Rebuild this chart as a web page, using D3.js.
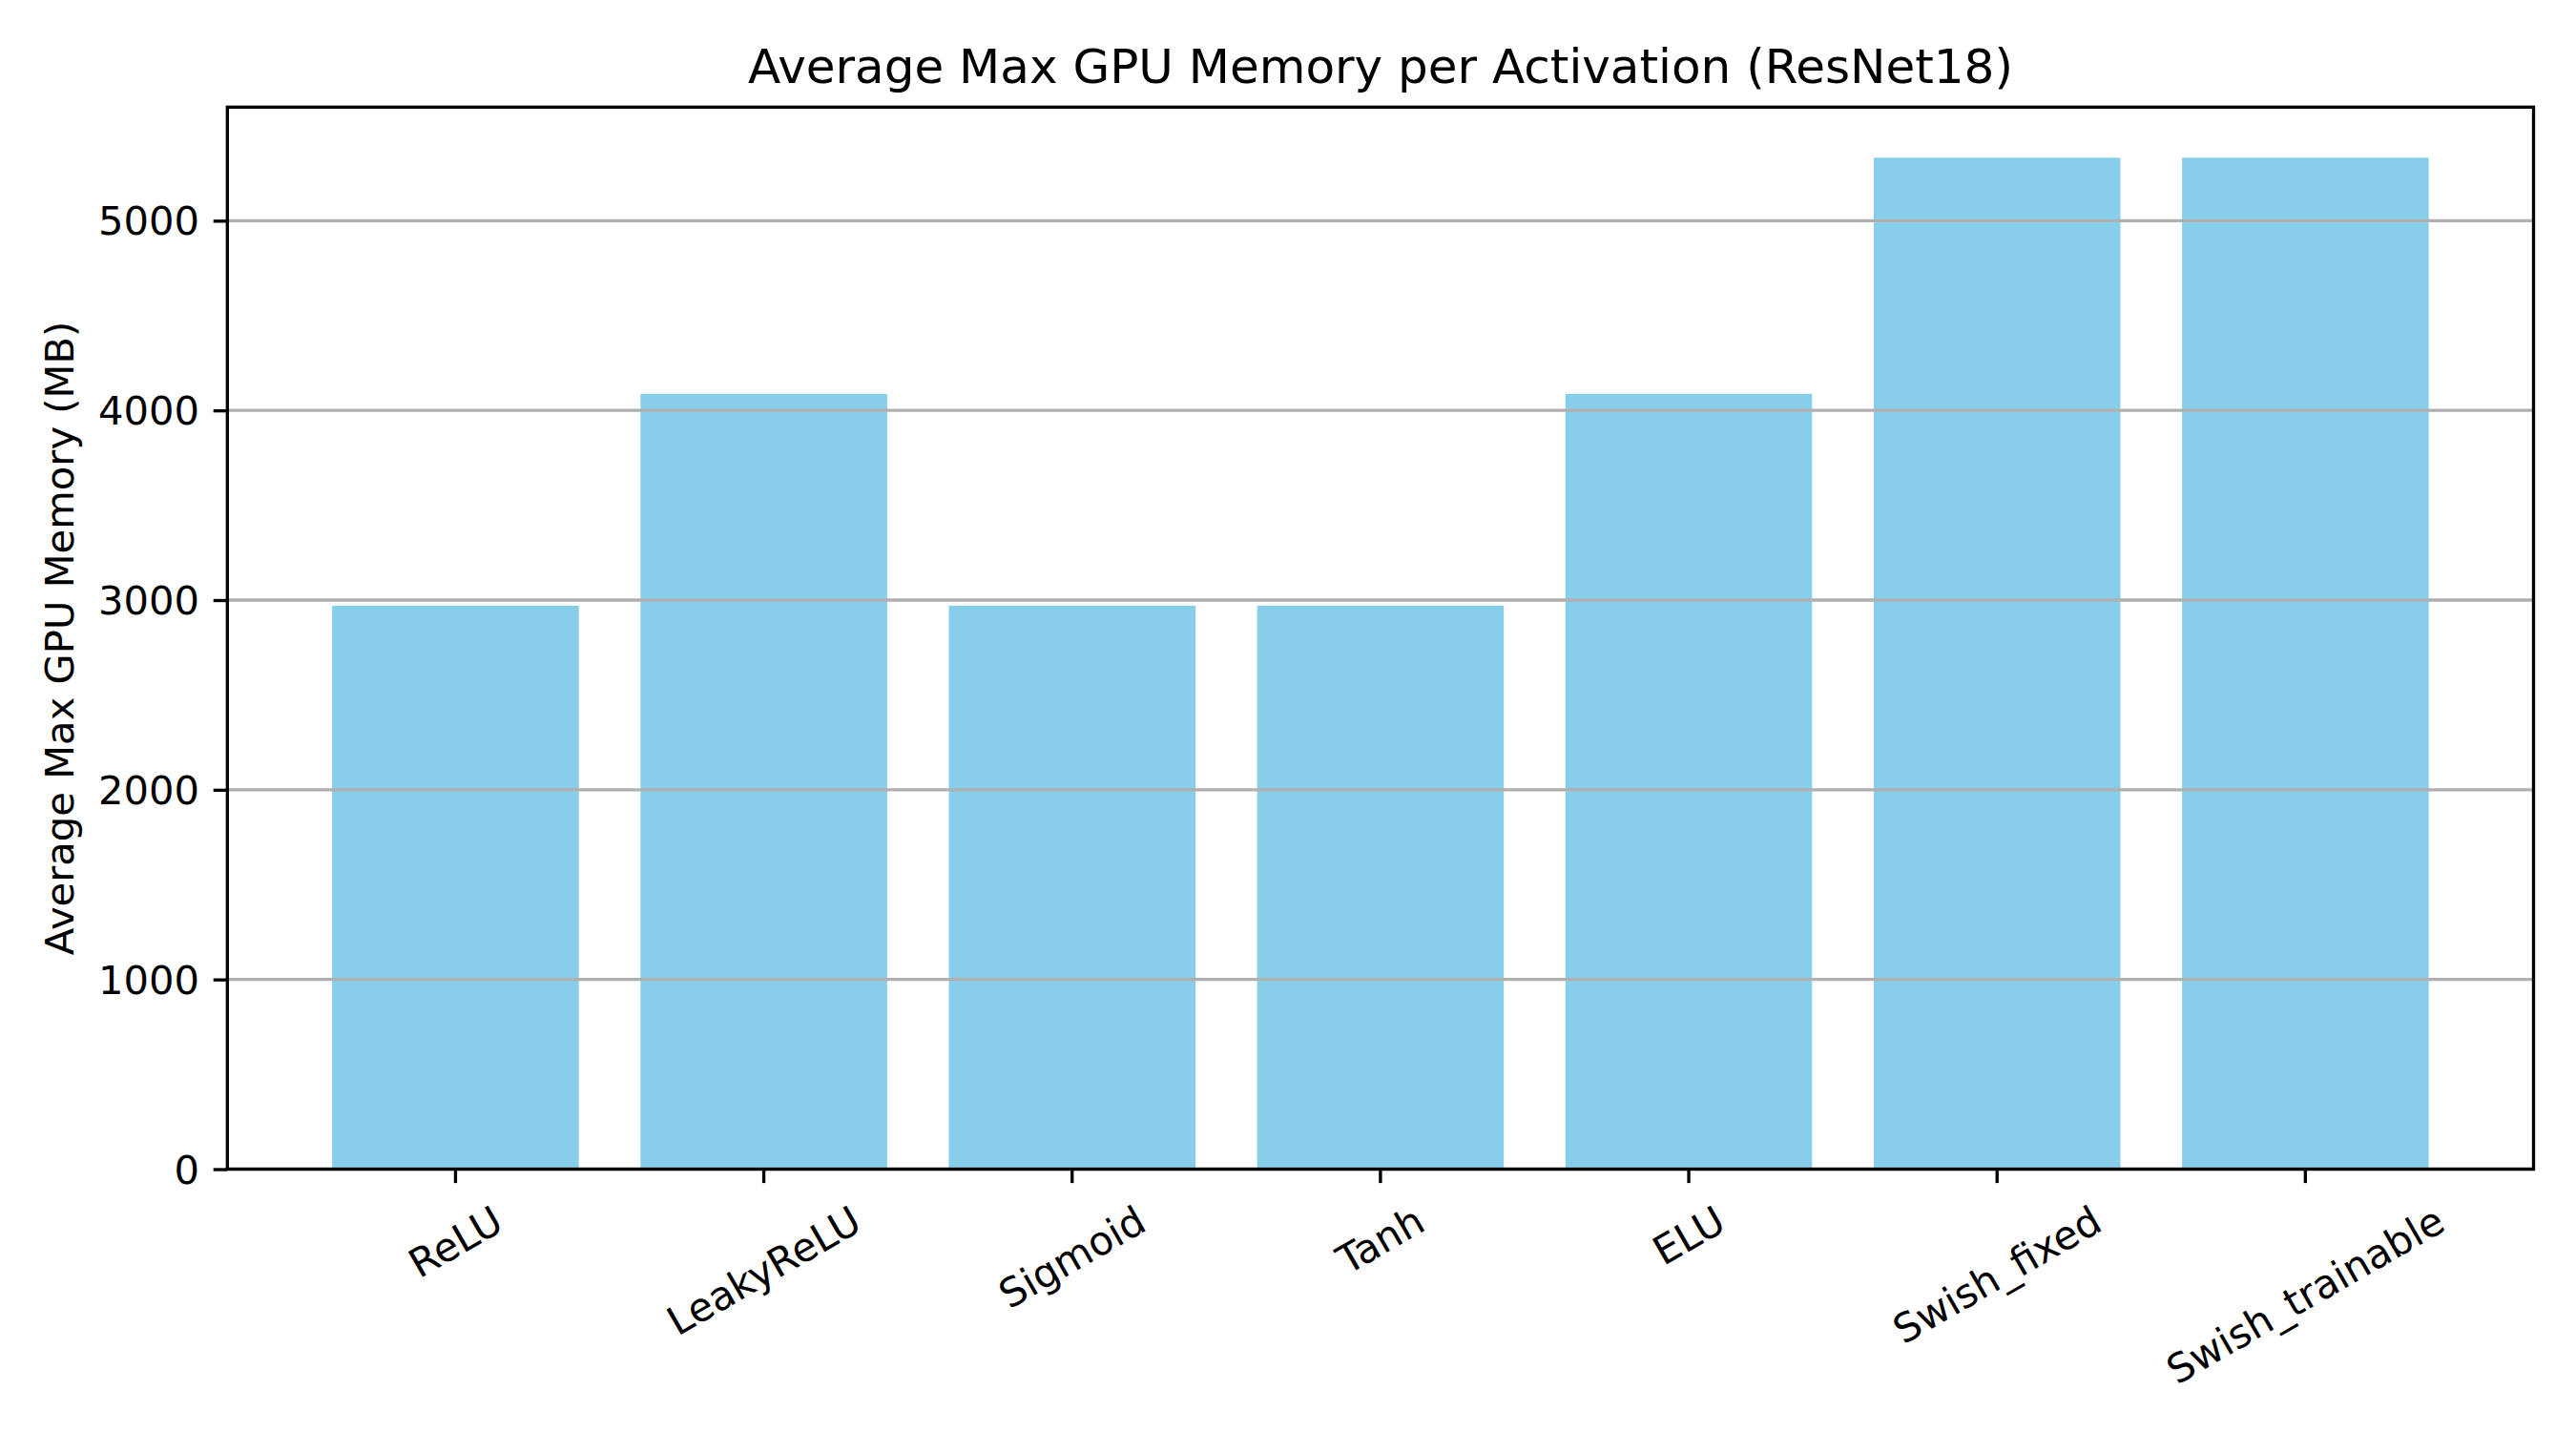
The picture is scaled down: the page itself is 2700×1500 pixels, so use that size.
<!DOCTYPE html>
<html>
<head>
<meta charset="utf-8">
<script src="https://cdn.jsdelivr.net/npm/d3@7"></script>
<style>
  body { margin: 0; background: #ffffff; }
  text { font-family: "DejaVu Sans", sans-serif; fill: #000; }
</style>
</head>
<body>
<div id="chart"></div>
<script>
// average max gpu memory per activation, ResNet18
const activations = ["ReLU", "LeakyReLU", "Sigmoid", "Tanh", "ELU", "Swish_fixed", "Swish_trainable"];
const memoryMB = [2970, 4087, 2970, 2970, 4087, 5332, 5332];
const yTicks = [0, 1000, 2000, 3000, 4000, 5000];

const width = 2700, height = 1500;
const margin = {top: 112.3, right: 44.5, bottom: 274.5, left: 238.3};
const lw = 3.33;          // 0.8pt at 300 dpi
const tickLen = 14.6, tickPad = 14.6;
const fontSize = 41.67;

const svg = d3.select("#chart")
    .append("svg")
    .attr("width", width)
    .attr("height", height)
    .style("background-color", "#ffffff");

const x0 = margin.left, x1 = width - margin.right;
const y0 = height - margin.bottom, y1 = margin.top;

// matplotlib default: bar width 0.8, 5% margin on x
const xScale = d3.scaleBand()
    .domain(activations)
    .range([x0, x1])
    .paddingInner(0.2)
    .paddingOuter(0.34);

const yScale = d3.scaleLinear()
    .domain([0, d3.max(memoryMB) * 1.05])
    .range([y0, y1]);

// bars
svg.selectAll(".bar")
    .data(activations)
    .enter()
    .append("rect")
    .attr("class", "bar")
    .attr("x", d => xScale(d))
    .attr("width", xScale.bandwidth())
    .attr("y", (d, i) => yScale(memoryMB[i]))
    .attr("height", (d, i) => y0 - yScale(memoryMB[i]))
    .style("fill", "#87ceeb");

// horizontal grid drawn over the bars, like matplotlib
svg.append("g")
    .selectAll("line")
    .data(yTicks)
    .enter()
    .append("line")
    .attr("x1", x0).attr("x2", x1)
    .attr("y1", d => yScale(d)).attr("y2", d => yScale(d))
    .style("stroke", "#b0b0b0")
    .style("stroke-width", lw);

// y axis
let yAxis = d3.axisLeft(yScale)
    .tickValues(yTicks)
    .tickSize(tickLen)
    .tickPadding(tickPad)
    .tickFormat(d3.format("d"));

let gy = svg.append("g")
    .attr("transform", `translate(${x0},0)`)
    .call(yAxis);
gy.select(".domain").remove();
gy.selectAll(".tick line").style("stroke", "#000").style("stroke-width", lw);
gy.selectAll(".tick text")
    .style("font-size", fontSize + "px")
    .style("font-family", "DejaVu Sans")
    .attr("dy", "0.35em");

// x axis
let xAxis = d3.axisBottom(xScale)
    .tickSize(tickLen)
    .tickFormat("");

let gx = svg.append("g")
    .attr("transform", `translate(0,${y0})`)
    .call(xAxis);
gx.select(".domain").remove();
gx.selectAll(".tick line").style("stroke", "#000").style("stroke-width", lw);

// rotated tick labels (30deg, centred bbox under the tick)
const labelTop = y0 + tickLen + tickPad;
const ang = 30 * Math.PI / 180;
const textH = fontSize * 1.17;
activations.forEach(name => {
    let t = svg.append("text")
        .attr("text-anchor", "middle")
        .attr("dominant-baseline", "central")
        .style("font-size", fontSize + "px")
        .text(name);
    let w = t.node().getComputedTextLength();
    let bboxH = w * Math.sin(ang) + textH * Math.cos(ang);
    let cx = xScale(name) + xScale.bandwidth() / 2;
    let cy = labelTop + bboxH / 2;
    t.attr("transform", `translate(${cx},${cy}) rotate(-30)`);
});

// frame
svg.append("rect")
    .attr("x", x0).attr("y", y1)
    .attr("width", x1 - x0).attr("height", y0 - y1)
    .style("fill", "none")
    .style("stroke", "#000")
    .style("stroke-width", lw);

// y label
svg.append("text")
    .attr("transform", `translate(62,${(y0 + y1) / 2}) rotate(-90)`)
    .attr("text-anchor", "middle")
    .attr("dominant-baseline", "central")
    .style("font-size", fontSize + "px")
    .text("Average Max GPU Memory (MB)");

// title
svg.append("text")
    .attr("x", (x0 + x1) / 2)
    .attr("y", y1 - 25)
    .attr("text-anchor", "middle")
    .style("font-size", "50px")
    .text("Average Max GPU Memory per Activation (ResNet18)");
</script>
</body>
</html>
